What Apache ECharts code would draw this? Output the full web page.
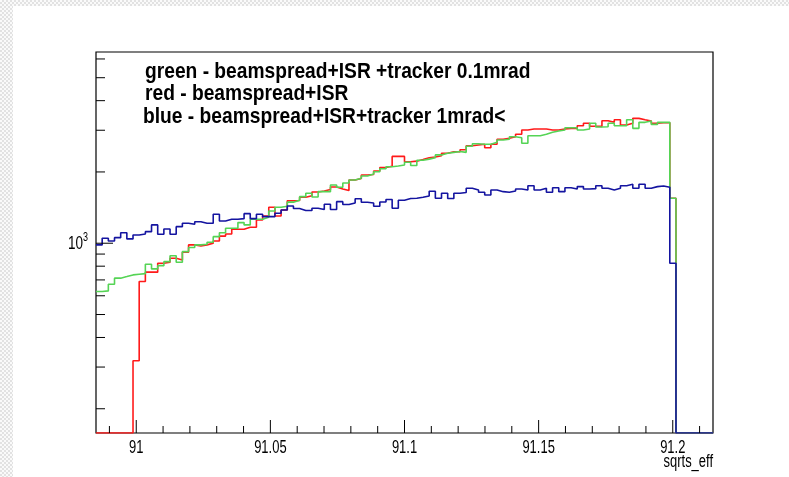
<!DOCTYPE html>
<html>
<head>
<meta charset="utf-8">
<script src="https://cdn.jsdelivr.net/npm/echarts@6/dist/echarts.min.js"></script>
<style>
  html, body { margin: 0; padding: 0; }
  body {
    width: 789px; height: 477px; position: relative; overflow: hidden;
    background-color: #fff;
    background-image: conic-gradient(#e2e2e2 25%, #fafafa 0 50%, #e2e2e2 0 75%, #fafafa 0);
    background-size: 4px 4px;
  }
  #paper { position: absolute; left: 13px; top: 6px; right: 0; bottom: 0; background: #fff; }
  #chart { position: absolute; left: 0; top: 0; width: 789px; height: 477px; }
</style>
</head>
<body>
<div id="paper"></div>
<div id="chart"></div>
<script>
// Histogram binning of sqrts_eff: 100 bins from 90.985, width 0.0023
const binLow = 90.985;
const binWidth = 0.0023;

// Bin contents (entries per bin), bins 0..99
const redCounts = [
  0, 0, 0, 0, 0, 0, 319, 689, 755, 755,
  823, 831, 864, 850, 916, 984, 974, 984, 1000, 1022,
  1072, 1094, 1146, 1146, 1168, 1168, 1254, 1304, 1419, 1304,
  1382, 1511, 1515, 1564, 1586, 1646, 1662, 1687, 1728, 1695,
  1670, 1850, 1875, 1942, 1950, 2019, 2088, 2113, 2326, 2326,
  2210, 2221, 2256, 2296, 2313, 2340, 2397, 2435, 2435, 2483,
  2579, 2599, 2617, 2532, 2617, 2747, 2773, 2818, 2884, 3007,
  3035, 3035, 3035, 3007, 3007, 3035, 3056, 3056, 3135, 3209,
  3120, 3116, 3291, 3240, 3323, 3157, 3209, 3368, 3323, 3281,
  3209, 3228, 3228, 1549, 0, 0, 0, 0, 0, 0
];
const greenCounts = [
  625, 629, 671, 712, 723, 735, 740, 744, 815, 779,
  804, 836, 886, 831, 922, 960, 984, 990, 1010, 1066,
  1108, 1157, 1157, 1222, 1195, 1263, 1263, 1287, 1369, 1419,
  1432, 1491, 1518, 1573, 1625, 1568, 1651, 1651, 1762, 1723,
  1797, 1850, 1880, 1923, 1960, 2005, 2062, 2105, 2120, 2140,
  2199, 2130, 2240, 2265, 2294, 2360, 2397, 2420, 2440, 2420,
  2566, 2630, 2617, 2617, 2668, 2729, 2747, 2818, 2790, 2642,
  2844, 2844, 2884, 2940, 2977, 3007, 3074, 3074, 3007, 3035,
  3209, 3095, 3105, 3209, 3134, 3134, 3323, 3056, 3240, 3281,
  3175, 3240, 3240, 1549, 0, 0, 0, 0, 0, 0
];
const blueCounts = [
  984, 1050, 1022, 1056, 1108, 1043, 1084, 1094, 1119, 1195,
  1091, 1149, 1091, 1175, 1214, 1203, 1233, 1214, 1214, 1326,
  1242, 1263, 1263, 1270, 1333, 1270, 1326, 1295, 1295, 1339,
  1382, 1437, 1402, 1375, 1375, 1405, 1389, 1461, 1388, 1498,
  1458, 1479, 1541, 1489, 1479, 1433, 1494, 1530, 1405, 1518,
  1545, 1548, 1564, 1583, 1657, 1548, 1625, 1545, 1625, 1638,
  1706, 1679, 1641, 1599, 1679, 1651, 1641, 1662, 1695, 1679,
  1750, 1679, 1706, 1641, 1716, 1651, 1716, 1695, 1734, 1695,
  1700, 1748, 1706, 1679, 1706, 1750, 1774, 1706, 1774, 1706,
  1734, 1745, 1722, 823, 0, 0, 0, 0, 0, 0
];

// Axis ranges and ticks
const xRange = [90.985, 91.215];
const yRange = [158, 6420];
const xMajorTicks = [91, 91.05, 91.1, 91.15, 91.2];
const xMajorLabels = ['91', '91.05', '91.1', '91.15', '91.2'];
const xMinorTicks = [90.99, 91.01, 91.02, 91.03, 91.04, 91.06, 91.07, 91.08, 91.09,
  91.11, 91.12, 91.13, 91.14, 91.16, 91.17, 91.18, 91.19, 91.21];
const yMajorTicks = [1000];
const yMinorTicks = [200, 300, 400, 500, 600, 700, 800, 900, 2000, 3000, 4000, 5000, 6000];

const legendLines = [
  'green - beamspread+ISR +tracker 0.1mrad',
  'red - beamspread+ISR',
  'blue - beamspread+ISR+tracker 1mrad<'
];

const FONT = '"Liberation Sans", Arial, Helvetica, sans-serif';

// Outline of a histogram: horizontal segment per bin, vertical jumps between bins.
// Empty bins sit on the bottom of the log axis.
function outline(counts) {
  const pts = [];
  counts.forEach((c, i) => {
    const v = c > 0 ? c : yRange[0];
    pts.push([binLow + i * binWidth, v]);
    pts.push([binLow + (i + 1) * binWidth, v]);
  });
  return pts;
}

function histSeries(counts, color) {
  return {
    type: 'line',
    data: outline(counts),
    showSymbol: false,
    symbol: 'none',
    clip: true,
    lineStyle: { color: color, width: 1.6 },
    silent: true,
    animation: false,
    z: 3
  };
}

const chart = echarts.init(document.getElementById('chart'), null, { renderer: 'canvas' });

const xTickData = xMajorTicks.map((v, i) => [v, yRange[0], 1, i])
  .concat(xMinorTicks.map(v => [v, yRange[0], 0, -1]));
const yTickData = yMajorTicks.map(v => [xRange[0], v, 1])
  .concat(yMinorTicks.map(v => [xRange[0], v, 0]));

chart.setOption({
  animation: false,
  backgroundColor: 'transparent',
  grid: {
    left: 96, top: 52, width: 617, height: 381,
    show: true, borderColor: '#000', borderWidth: 1.2, backgroundColor: 'transparent'
  },
  xAxis: {
    type: 'value', min: xRange[0], max: xRange[1],
    axisLine: { show: false }, axisTick: { show: false },
    axisLabel: { show: false }, splitLine: { show: false }
  },
  yAxis: {
    type: 'log', logBase: 10, min: yRange[0], max: yRange[1],
    axisLine: { show: false }, axisTick: { show: false },
    axisLabel: { show: false }, splitLine: { show: false }
  },
  series: [
    histSeries(redCounts, '#ff1a1a'),
    histSeries(greenCounts, '#55d455'),
    histSeries(blueCounts, '#1414a0'),
    {
      // x axis ticks and labels, drawn inside the frame
      type: 'custom',
      data: xTickData,
      clip: false,
      silent: true,
      z: 5,
      renderItem: function (params, api) {
        const p = api.coord([api.value(0), api.value(1)]);
        const major = api.value(2) === 1;
        const len = major ? 13 : 7;
        const children = [{
          type: 'line',
          shape: { x1: p[0], y1: p[1], x2: p[0], y2: p[1] - len },
          style: { stroke: '#000', lineWidth: 1 }
        }];
        if (major) {
          children.push({
            type: 'text', x: p[0], y: p[1] + 15, scaleX: 0.72,
            style: {
              text: xMajorLabels[api.value(3)], font: '18px ' + FONT,
              fill: '#000', textAlign: 'center', textVerticalAlign: 'middle'
            }
          });
        }
        return { type: 'group', children: children };
      }
    },
    {
      // y axis (log) ticks and the 10^3 label
      type: 'custom',
      data: yTickData,
      clip: false,
      silent: true,
      z: 5,
      renderItem: function (params, api) {
        const p = api.coord([api.value(0), api.value(1)]);
        const major = api.value(2) === 1;
        const len = major ? 17 : 9;
        const children = [{
          type: 'line',
          shape: { x1: p[0], y1: p[1], x2: p[0] + len, y2: p[1] },
          style: { stroke: '#000', lineWidth: 1 }
        }];
        if (major) {
          const exp = Math.round(Math.log10(api.value(1)));
          children.push({
            type: 'text', x: p[0] - 13, y: p[1] + 1, scaleX: 0.75,
            style: {
              text: '10', font: '18px ' + FONT, fill: '#000',
              textAlign: 'right', textVerticalAlign: 'middle'
            }
          });
          children.push({
            type: 'text', x: p[0] - 13, y: p[1] - 6, scaleX: 0.75,
            style: {
              text: String(exp), font: '12px ' + FONT, fill: '#000',
              textAlign: 'left', textVerticalAlign: 'middle'
            }
          });
        }
        return { type: 'group', children: children };
      }
    }
  ],
  graphic: [
    {
      type: 'text', x: 145, y: 72, scaleX: 0.873,
      style: { text: legendLines[0], font: 'bold 22px ' + FONT, fill: '#000', textVerticalAlign: 'middle' }
    },
    {
      type: 'text', x: 145, y: 94, scaleX: 0.873,
      style: { text: legendLines[1], font: 'bold 22px ' + FONT, fill: '#000', textVerticalAlign: 'middle' }
    },
    {
      type: 'text', x: 143, y: 117, scaleX: 0.873,
      style: { text: legendLines[2], font: 'bold 22px ' + FONT, fill: '#000', textVerticalAlign: 'middle' }
    },
    {
      type: 'text', x: 713, y: 462, scaleX: 0.72,
      style: { text: 'sqrts_eff', font: '18px ' + FONT, fill: '#000', textAlign: 'right', textVerticalAlign: 'middle' }
    }
  ]
});
</script>
</body>
</html>
